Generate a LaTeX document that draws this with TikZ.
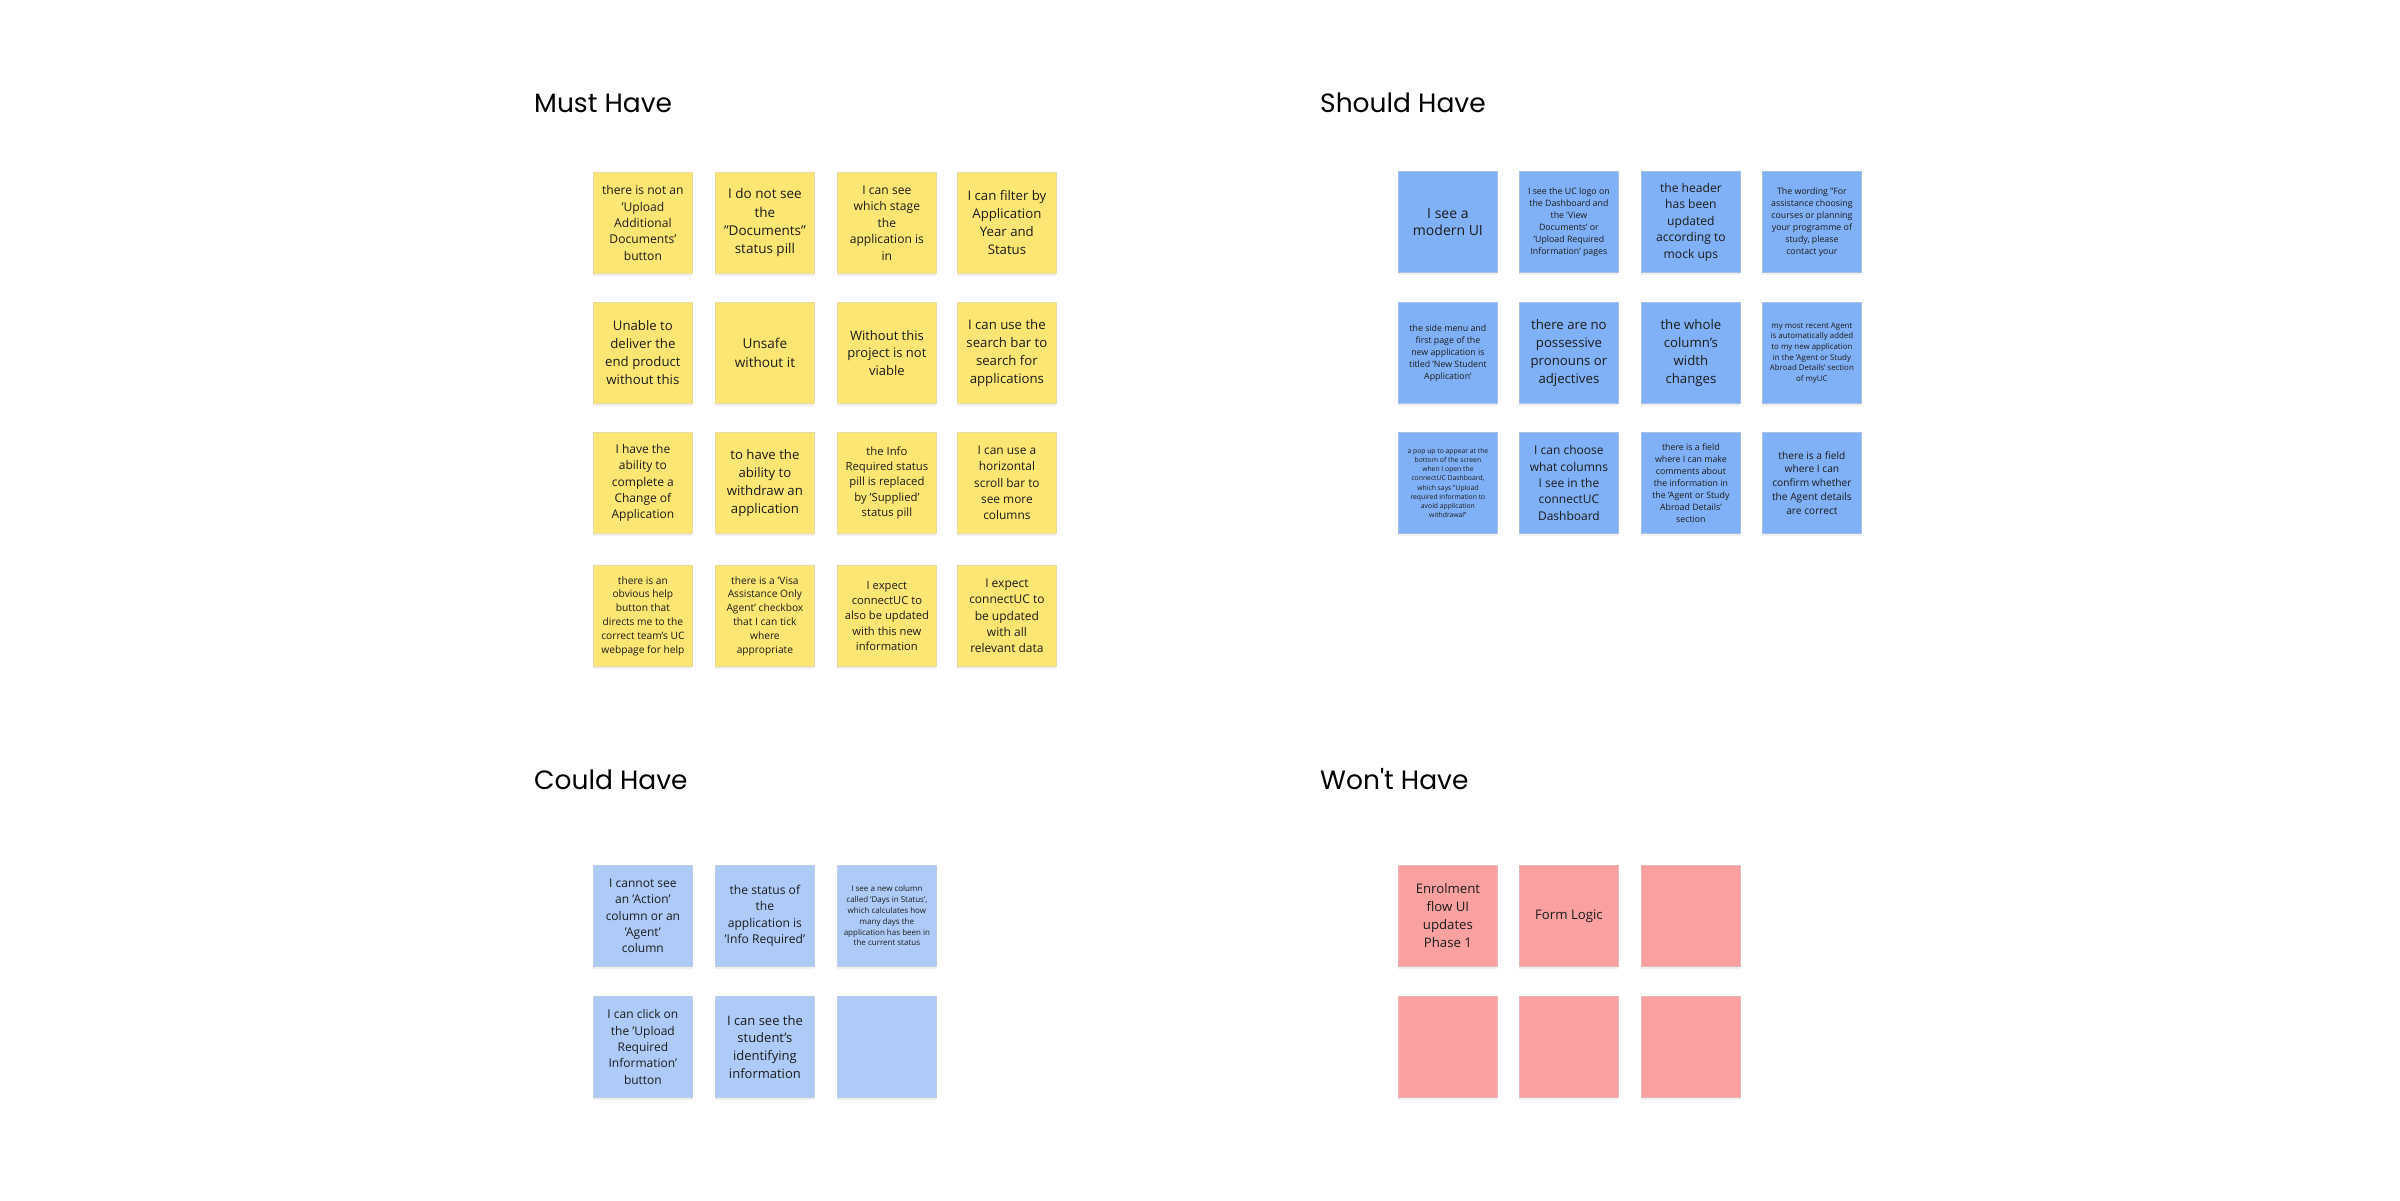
\documentclass[tikz,border=0pt]{standalone}
\usepackage{fontspec}
\setmainfont{Open Sans}
\newfontfamily\titlefont{Poppins}
\usetikzlibrary{shadows}

\definecolor{stickyYellow}{HTML}{FDE673}
\definecolor{stickyBlue}{HTML}{80B0F5}
\definecolor{stickyLightBlue}{HTML}{AECBF8}
\definecolor{stickyRed}{HTML}{F9A0A0}
\definecolor{noteText}{HTML}{1C1C1C}

\tikzset{
  note/.style={rectangle, minimum width=99pt, minimum height=101pt, inner sep=0pt,
    align=center, anchor=north west, text=noteText, line width=0.8pt,
    drop shadow={shadow xshift=0pt, shadow yshift=-3pt, opacity=.12}},
  must/.style={note, fill=stickyYellow, draw=stickyYellow!85!black!60},
  should/.style={note, fill=stickyBlue, draw=stickyBlue!85!black!60},
  could/.style={note, fill=stickyLightBlue, draw=stickyLightBlue!85!black!60},
  wont/.style={note, fill=stickyRed, draw=stickyRed!85!black!60},
  sz/.style 2 args={font=\fontsize{#1}{#2}\selectfont},
  heading/.style={anchor=base west, inner sep=0pt, font=\titlefont\fontsize{26.5}{32}\selectfont}
}

\begin{document}
\begin{tikzpicture}[x=1pt, y=-1pt]
        \useasboundingbox (0,0) rectangle (2400,1200);
        % quadrant headings
        \node [heading] (tMust) at (534,112) {Must Have};
        \node [heading] (tShould) at (1320,112) {Should Have};
        \node [heading] (tCould) at (534,789) {Could Have};
        \node [heading] (tWont) at (1320,789) {Won't Have};

        % Must Have
        \node [must, sz={12.1}{16.4}] (m1) at (593,172) {there is not an\\'Upload\\Additional\\Documents'\\button};
        \node [must, sz={13.5}{18.3}] (m2) at (715,172) {I do not see\\the\\"Documents"\\status pill};
        \node [must, sz={12.1}{16.5}] (m3) at (837,172) {I can see\\which stage\\the\\application is\\in};
        \node [must, sz={13.2}{18}] (m4) at (957,172) {I can filter by\\Application\\Year and\\Status};
        \node [must, sz={13.2}{18}] (m5) at (593,302) {Unable to\\deliver the\\end product\\without this};
        \node [must, sz={13.6}{18.5}] (m6) at (715,302) {Unsafe\\without it};
        \node [must, sz={13}{17.7}] (m7) at (837,302) {Without this\\project is not\\viable};
        \node [must, sz={13.2}{18}] (m8) at (957,302) {I can use the\\search bar to\\search for\\applications};
        \node [must, sz={12}{16.3}] (m9) at (593,432) {I have the\\ability to\\complete a\\Change of\\Application};
        \node [must, sz={13.2}{18}] (m10) at (715,432) {to have the\\ability to\\withdraw an\\application};
        \node [must, sz={11.3}{15.3}] (m11) at (837,432) {the Info\\Required status\\pill is replaced\\by 'Supplied'\\status pill};
        \node [must, sz={11.9}{16.2}] (m12) at (957,432) {I can use a\\horizontal\\scroll bar to\\see more\\columns};
        \node [must, sz={10.2}{13.8}] (m13) at (593,565) {there is an\\obvious help\\button that\\directs me to the\\correct team's UC\\webpage for help};
        \node [must, sz={10.2}{13.8}] (m14) at (715,565) {there is a 'Visa\\Assistance Only\\Agent' checkbox\\that I can tick\\where\\appropriate};
        \node [must, sz={11.2}{15.2}] (m15) at (837,565) {I expect\\connectUC to\\also be updated\\with this new\\information};
        \node [must, sz={12}{16.3}] (m16) at (957,565) {I expect\\connectUC to\\be updated\\with all\\relevant data};

        % Should Have
        \node [should, sz={14}{17.3}] (s1) at (1398,171) {I see a\\modern UI};
        \node [should, sz={8.8}{12}] (s2) at (1519,171) {I see the UC logo on\\the Dashboard and\\the 'View\\Documents' or\\'Upload Required\\Information' pages};
        \node [should, sz={12.1}{16.5}] (s3) at (1641,171) {the header\\has been\\updated\\according to\\mock ups};
        \node [should, sz={8.8}{12}] (s4) at (1762,171) {The wording "For\\assistance choosing\\courses or planning\\your programme of\\study, please\\contact your};
        \node [should, sz={8.8}{12}] (s5) at (1398,302) {the side menu and\\first page of the\\new application is\\titled 'New Student\\Application'};
        \node [should, sz={13.2}{18}] (s6) at (1519,302) {there are no\\possessive\\pronouns or\\adjectives};
        \node [should, sz={13.2}{18}] (s7) at (1641,302) {the whole\\column's\\width\\changes};
        \node [should, sz={7.9}{10.7}] (s8) at (1762,302) {my most recent Agent\\is automatically added\\to my new application\\in the 'Agent or Study\\Abroad Details' section\\of myUC};
        \node [should, sz={6.8}{9.2}] (s9) at (1398,432) {a pop up to appear at the\\bottom of the screen\\when I open the\\connectUC Dashboard,\\which says "Upload\\required information to\\avoid application\\withdrawal"};
        \node [should, sz={12}{16.3}] (s10) at (1519,432) {I can choose\\what columns\\I see in the\\connectUC\\Dashboard};
        \node [should, sz={8.8}{12}] (s11) at (1641,432) {there is a field\\where I can make\\comments about\\the information in\\the 'Agent or Study\\Abroad Details'\\section};
        \node [should, sz={10.2}{13.8}] (s12) at (1762,432) {there is a field\\where I can\\confirm whether\\the Agent details\\are correct};

        % Could Have
        \node [could, sz={12}{16.3}] (c1) at (593,865) {I cannot see\\an 'Action'\\column or an\\'Agent'\\column};
        \node [could, sz={12.1}{16.5}] (c2) at (715,865) {the status of\\the\\application is\\'Info Required'};
        \node [could, sz={8}{10.8}] (c3) at (837,865) {I see a new column\\called 'Days in Status',\\which calculates how\\many days the\\application has been in\\the current status};
        \node [could, sz={12}{16.3}] (c4) at (593,996) {I can click on\\the 'Upload\\Required\\Information'\\button};
        \node [could, sz={13}{17.7}] (c5) at (715,996) {I can see the\\student's\\identifying\\information};
        \node [could] (c6) at (837,996) {};

        % Won't Have
        \node [wont, sz={13.2}{18}] (w1) at (1398,865) {Enrolment\\flow UI\\updates\\Phase 1};
        \node [wont, sz={13.2}{18}] (w2) at (1519,865) {Form Logic};
        \node [wont] (w3) at (1641,865) {};
        \node [wont] (w4) at (1398,996) {};
        \node [wont] (w5) at (1519,996) {};
        \node [wont] (w6) at (1641,996) {};
    \end{tikzpicture}
\end{document}
